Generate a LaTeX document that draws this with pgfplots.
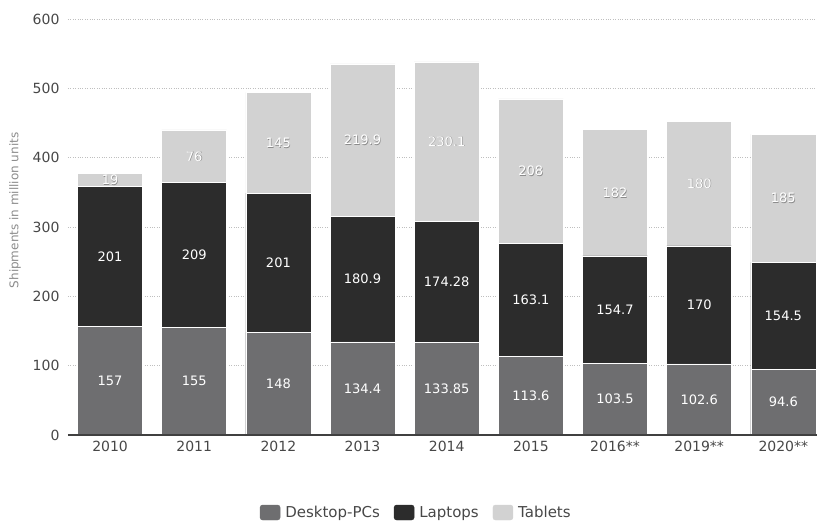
\documentclass[border=0pt]{standalone}
\usepackage{pgfplots}
\usepackage{pgfplotstable}
\pgfplotsset{compat=1.18}
\usepackage{fontspec}
\setmainfont{DejaVu Sans}
\definecolor{cdesk}{RGB}{110,110,112}
\definecolor{clap}{RGB}{44,44,44}
\definecolor{ctab}{RGB}{210,210,210}
\pgfplotstableread{
x desk lap tab
0 157 201 19
1 155 209 76
2 148 201 145
3 134.4 180.9 219.9
4 133.85 174.28 230.1
5 113.6 163.1 208
6 103.5 154.7 182
7 102.6 170 180
8 94.6 154.5 185
}\data
\pgfplotstablecreatecol[create col/expr={\thisrow{desk}+\thisrow{lap}}]{dl}\data
\pgfplotstablecreatecol[create col/expr={\thisrow{dl}+\thisrow{tab}}]{tot}\data
\pgfplotstablecreatecol[create col/expr={\thisrow{desk}/2}]{mdesk}\data
\pgfplotstablecreatecol[create col/expr={\thisrow{desk}+\thisrow{lap}/2}]{mlap}\data
\pgfplotstablecreatecol[create col/expr={\thisrow{dl}+\thisrow{tab}/2}]{mtab}\data
\begin{document}
\begin{tikzpicture}
\useasboundingbox (-68pt,-87pt) rectangle (749pt,435pt);
\begin{axis}[
  at={(0,0)}, anchor=south west, scale only axis, width=749pt, height=416pt,
  xmin=-0.5, xmax=8.4, ymin=0, ymax=600,
  xtick={0,...,8},
  xticklabels={2010,2011,2012,2013,2014,2015,2016**,2019**,2020**},
  ytick={0,100,...,600},
  axis lines*=left,
  y axis line style={draw=none},
  x axis line style={draw=none},
  major tick length=0pt,
  ymajorgrids, grid style={dotted, black!25, line width=0.6pt},
  tick label style={font=\fontsize{14}{16}\selectfont, text=black!72},
  xticklabel style={yshift=-3pt},
  yticklabel style={xshift=-5pt},
  /pgf/number format/assume math mode=true,
  ylabel={Shipments in million units},
  every axis y label/.style={at={(axis description cs:0,0.54)}, xshift=-53pt, rotate=90, anchor=center, font=\fontsize{12}{14}\selectfont, text=black!45},
  legend style={at={(rel axis cs:0.465,-0.1875)}, anchor=center, draw=none, fill=none, legend columns=3,
    font=\fontsize{15}{17}\selectfont, text=black!72,
    /tikz/every odd column/.append style={column sep=3pt},
    /tikz/every even column/.append style={column sep=12pt}},
  clip=false,
]
\addplot[ybar, bar width=65pt, bar shift=0pt, fill=ctab, draw=white, line width=0.6pt, forget plot] table[x=x, y=tot]{\data};
\addplot[ybar, bar width=65pt, bar shift=0pt, fill=clap, draw=white, line width=0.6pt, forget plot] table[x=x, y=dl]{\data};
\addplot[ybar, bar width=65pt, bar shift=0pt, fill=cdesk, draw=white, line width=0.6pt, forget plot] table[x=x, y=desk]{\data};
\addplot[black!75, line width=1.4pt, forget plot] coordinates {(-0.5,0) (8.4,0)};
\addplot[only marks, mark=none, forget plot, point meta=explicit symbolic, nodes near coords,
  every node near coord/.append style={anchor=center, text=white, font=\fontsize{13}{15}\selectfont}]
  table[x=x, y=mdesk, meta=desk]{\data};
\addplot[only marks, mark=none, forget plot, point meta=explicit symbolic, nodes near coords,
  every node near coord/.append style={anchor=center, text=white, font=\fontsize{13}{15}\selectfont}]
  table[x=x, y=mlap, meta=lap]{\data};
\addplot[only marks, mark=none, forget plot, point meta=explicit symbolic, nodes near coords,
  every node near coord/.append style={anchor=center, text=black!45, font=\fontsize{13}{15}\selectfont, xshift=0.6pt, yshift=-0.6pt}]
  table[x=x, y=mtab, meta=tab]{\data};
\addplot[only marks, mark=none, forget plot, point meta=explicit symbolic, nodes near coords,
  every node near coord/.append style={anchor=center, text=white, font=\fontsize{13}{15}\selectfont}]
  table[x=x, y=mtab, meta=tab]{\data};
\addlegendimage{legend image code/.code={\fill[cdesk, rounded corners=2.5pt] (0pt,-7pt) rectangle (20pt,8pt);}}
\addlegendentry{Desktop-PCs}
\addlegendimage{legend image code/.code={\fill[clap, rounded corners=2.5pt] (0pt,-7pt) rectangle (20pt,8pt);}}
\addlegendentry{Laptops}
\addlegendimage{legend image code/.code={\fill[ctab, rounded corners=2.5pt] (0pt,-7pt) rectangle (20pt,8pt);}}
\addlegendentry{Tablets}
\end{axis}
\end{tikzpicture}
\end{document}
